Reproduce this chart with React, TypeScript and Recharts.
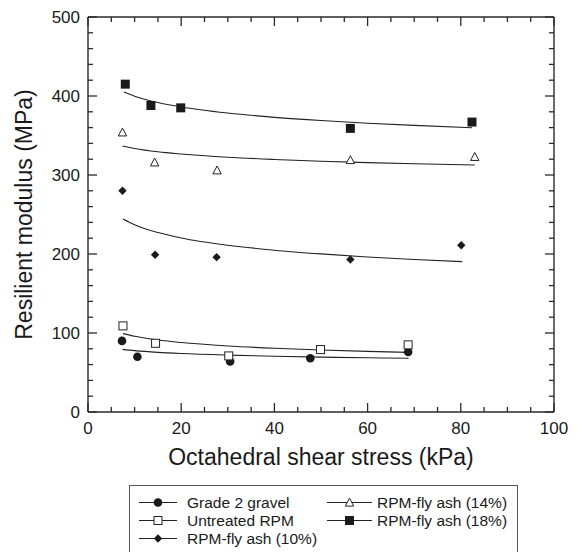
import React from 'react';
import { ComposedChart, Line, Scatter, XAxis, YAxis } from 'recharts';

// Measured points: octahedral shear stress (kPa) vs resilient modulus (MPa)
const gravelStress = [7.3, 10.6, 30.5, 47.7, 68.7];
const gravelModulus = [90, 70, 64, 68, 76];
const untreatedStress = [7.5, 14.5, 30.2, 49.9, 68.7];
const untreatedModulus = [109, 87, 71, 79, 85];
const ash10Stress = [7.4, 14.4, 27.6, 56.3, 80.1];
const ash10Modulus = [280, 199, 196, 193, 211];
const ash14Stress = [7.4, 14.3, 27.7, 56.3, 83.0];
const ash14Modulus = [354, 316, 306, 319, 323];
const ash18Stress = [8.0, 13.5, 19.9, 56.3, 82.4];
const ash18Modulus = [415, 388, 385, 359, 367];

// Trend curves
const gravelTrendStress = [7.4, 10, 15, 20, 30, 40, 50, 60, 68.8];
const gravelTrendModulus = [79.3, 77.7, 75.5, 74.0, 72.0, 70.6, 69.5, 68.6, 68.0];
const untreatedTrendStress = [7.5, 10, 15, 20, 30, 40, 50, 60, 68.7];
const untreatedTrendModulus = [99.2, 95.8, 91.1, 87.9, 83.6, 80.7, 78.5, 76.8, 75.5];
const ash10TrendStress = [7.5, 10, 15, 20, 30, 40, 50, 60, 70, 80.3];
const ash10TrendModulus = [244.3, 237.0, 227.1, 220.3, 211.1, 204.8, 200.1, 196.2, 193.1, 190.3];
const ash14TrendStress = [7.4, 10, 15, 20, 30, 40, 50, 60, 70, 83];
const ash14TrendModulus = [336.7, 333.6, 329.4, 326.6, 322.5, 319.7, 317.5, 315.7, 314.3, 312.7];
const ash18TrendStress = [7.7, 10, 15, 20, 30, 40, 50, 60, 70, 82.4];
const ash18TrendModulus = [405, 399.8, 391.7, 386.1, 378.4, 373, 368.9, 365.6, 362.8, 359.9];

// Axis ticks (majors every 20 kPa / 100 MPa carry labels)
const stressTicks = [0, 5, 10, 15, 20, 25, 30, 35, 40, 45, 50, 55, 60, 65, 70, 75, 80, 85, 90, 95, 100];
const modulusTicks = [0, 20, 40, 60, 80, 100, 120, 140, 160, 180, 200, 220, 240, 260, 280, 300, 320, 340, 360, 380, 400, 420, 440, 460, 480, 500];

const seriesNames = ['Grade 2 gravel', 'Untreated RPM', 'RPM-fly ash (10%)', 'RPM-fly ash (14%)', 'RPM-fly ash (18%)'];

const FONT = '"Liberation Sans", Arial, Helvetica, sans-serif';
const AXIS = '#2a2a2a';
const INK = '#1a1a1a';
const MINOR = 5; // inward length of every tick
const EXTRA = 4; // additional length of major ticks

const zip = (xs: number[], ys: number[]) => xs.map((x, i) => ({ x, y: ys[i] }));

type MarkerKind = 'circle' | 'openSquare' | 'diamond' | 'openTriangle' | 'square';

const Marker = ({ kind, cx, cy }: { kind: MarkerKind; cx: number; cy: number }) => {
  switch (kind) {
    case 'circle':
      return <circle cx={cx} cy={cy} r={4.3} fill={INK} />;
    case 'openSquare':
      return <rect x={cx - 4} y={cy - 4} width={8} height={8} fill="#fff" stroke="#222" strokeWidth={1} />;
    case 'diamond':
      return <polygon points={`${cx},${cy - 4.2} ${cx + 4.2},${cy} ${cx},${cy + 4.2} ${cx - 4.2},${cy}`} fill={INK} />;
    case 'openTriangle':
      return <polygon points={`${cx},${cy - 4.3} ${cx + 4.2},${cy + 3.6} ${cx - 4.2},${cy + 3.6}`} fill="#fff" stroke="#222" strokeWidth={1} />;
    case 'square':
      return <rect x={cx - 4.5} y={cy - 4.5} width={9} height={9} fill={INK} />;
  }
  return null;
};

const shapeOf = (kind: MarkerKind) => (p: any) => <Marker kind={kind} cx={p.cx} cy={p.cy} />;
const noShape = () => <g />;

const tickLineStyle = { stroke: AXIS, strokeWidth: 1.3 };
const axisLineStyle = { stroke: AXIS, strokeWidth: 1.4 };

// Native tick lines point inward (negative tickSize); the tick renderer
// lengthens majors and writes their labels.
const BottomTick = (p: any) => {
  const v = p.payload.value;
  const major = v % 20 === 0;
  return (
    <g>
      {major ? <path d={`M${p.x},${p.y}L${p.x},${p.y - EXTRA}`} stroke={AXIS} strokeWidth={1.3} fill="none" /> : null}
      {major ? (
        <text x={p.x} y={p.y + MINOR + 21.5} textAnchor="middle" fontSize={17} fontFamily={FONT} fill={INK}>
          {v}
        </text>
      ) : null}
    </g>
  );
};

const TopTick = (p: any) => {
  const major = p.payload.value % 20 === 0;
  return <g>{major ? <path d={`M${p.x},${p.y}L${p.x},${p.y + EXTRA}`} stroke={AXIS} strokeWidth={1.3} fill="none" /> : null}</g>;
};

const LeftTick = (p: any) => {
  const v = p.payload.value;
  const major = v % 100 === 0;
  return (
    <g>
      {major ? <path d={`M${p.x},${p.y}L${p.x + EXTRA},${p.y}`} stroke={AXIS} strokeWidth={1.3} fill="none" /> : null}
      {major ? (
        <text x={p.x - MINOR - 8} y={p.y + 6} textAnchor="end" fontSize={17} fontFamily={FONT} fill={INK}>
          {v}
        </text>
      ) : null}
    </g>
  );
};

const RightTick = (p: any) => {
  const major = p.payload.value % 100 === 0;
  return <g>{major ? <path d={`M${p.x},${p.y}L${p.x - EXTRA},${p.y}`} stroke={AXIS} strokeWidth={1.3} fill="none" /> : null}</g>;
};

const XTitle = (p: any) => {
  const vb = p.viewBox;
  return (
    <text x={vb.x + vb.width / 2} y={vb.y + 53} textAnchor="middle" fontSize={23} fontFamily={FONT} fill={INK}>
      Octahedral shear stress (kPa)
    </text>
  );
};

const YTitle = (p: any) => {
  const vb = p.viewBox;
  const cx = 31.5;
  const cy = vb.y + vb.height / 2;
  return (
    <text x={cx} y={cy} transform={`rotate(-90, ${cx}, ${cy})`} textAnchor="middle" fontSize={23} fontFamily={FONT} fill={INK}>
      Resilient modulus (MPa)
    </text>
  );
};

const legendItems: { name: string; kind: MarkerKind; col: number; row: number }[] = [
  { name: seriesNames[0], kind: 'circle', col: 0, row: 0 },
  { name: seriesNames[1], kind: 'openSquare', col: 0, row: 1 },
  { name: seriesNames[2], kind: 'diamond', col: 0, row: 2 },
  { name: seriesNames[3], kind: 'openTriangle', col: 1, row: 0 },
  { name: seriesNames[4], kind: 'square', col: 1, row: 1 },
];

const LegendBox = () => {
  const cols = [
    { x1: 10, x2: 48, text: 58 },
    { x1: 198, x2: 243, text: 248 },
  ];
  return (
    <svg width={389} height={90} style={{ position: 'absolute', left: 129, top: 485 }}>
      <rect x={0.5} y={0.5} width={388} height={100} fill="#fff" stroke="#555" strokeWidth={1} />
      {legendItems.map((it) => {
        const c = cols[it.col];
        const y = 17.5 + it.row * 18;
        const mid = (c.x1 + c.x2) / 2;
        return (
          <g key={it.name}>
            <path d={`M${c.x1},${y}L${c.x2},${y}`} stroke="#222" strokeWidth={1} />
            <Marker kind={it.kind} cx={mid} cy={y} />
            <text x={c.text} y={y + 5.5} fontSize={15.5} fontFamily={FONT} fill={INK}>
              {it.name}
            </text>
          </g>
        );
      })}
    </svg>
  );
};

const trends = [
  zip(gravelTrendStress, gravelTrendModulus),
  zip(untreatedTrendStress, untreatedTrendModulus),
  zip(ash10TrendStress, ash10TrendModulus),
  zip(ash14TrendStress, ash14TrendModulus),
  zip(ash18TrendStress, ash18TrendModulus),
];

const points: { data: { x: number; y: number }[]; kind: MarkerKind }[] = [
  { data: zip(gravelStress, gravelModulus), kind: 'circle' },
  { data: zip(untreatedStress, untreatedModulus), kind: 'openSquare' },
  { data: zip(ash10Stress, ash10Modulus), kind: 'diamond' },
  { data: zip(ash14Stress, ash14Modulus), kind: 'openTriangle' },
  { data: zip(ash18Stress, ash18Modulus), kind: 'square' },
];

export default function App() {
  return (
    <div style={{ position: 'absolute', left: 0, top: 0, width: 582, height: 552, overflow: 'hidden', background: '#fff' }}>
      <ComposedChart width={582} height={552} margin={{ top: 16, right: 27, bottom: 0, left: 0 }}>
        <XAxis
          xAxisId="b"
          type="number"
          dataKey="x"
          domain={[0, 100]}
          ticks={stressTicks}
          interval={0}
          height={140}
          tickSize={-MINOR}
          tickMargin={0}
          tickLine={tickLineStyle}
          tick={BottomTick}
          axisLine={axisLineStyle}
          label={{ content: XTitle }}
        />
        <XAxis
          xAxisId="t"
          orientation="top"
          type="number"
          dataKey="x"
          domain={[0, 100]}
          ticks={stressTicks}
          interval={0}
          height={1}
          tickSize={-MINOR}
          tickMargin={0}
          tickLine={tickLineStyle}
          tick={TopTick}
          axisLine={axisLineStyle}
        />
        <YAxis
          yAxisId="l"
          type="number"
          dataKey="y"
          domain={[0, 500]}
          ticks={modulusTicks}
          interval={0}
          width={88}
          tickSize={-MINOR}
          tickMargin={0}
          tickLine={tickLineStyle}
          tick={LeftTick}
          axisLine={axisLineStyle}
          label={{ content: YTitle }}
        />
        <YAxis
          yAxisId="r"
          orientation="right"
          type="number"
          dataKey="y"
          domain={[0, 500]}
          ticks={modulusTicks}
          interval={0}
          width={1}
          tickSize={-MINOR}
          tickMargin={0}
          tickLine={tickLineStyle}
          tick={RightTick}
          axisLine={axisLineStyle}
        />
        {/* mirror axes frame the plot; an invisible series keeps them attached */}
        <Scatter
          xAxisId="t"
          yAxisId="r"
          data={points[0].data}
          dataKey="y"
          shape={noShape}
          legendType="none"
          isAnimationActive={false}
        />
        {trends.map((d, i) => (
          <Line
            key={`trend-${i}`}
            xAxisId="b"
            yAxisId="l"
            data={d}
            dataKey="y"
            type="monotone"
            stroke="#222"
            strokeWidth={1.1}
            dot={false}
            activeDot={false}
            legendType="none"
            isAnimationActive={false}
          />
        ))}
        {points.map((s, i) => (
          <Scatter
            key={`pts-${i}`}
            name={seriesNames[i]}
            xAxisId="b"
            yAxisId="l"
            data={s.data}
            dataKey="y"
            shape={shapeOf(s.kind)}
            isAnimationActive={false}
          />
        ))}
      </ComposedChart>
      <LegendBox />
    </div>
  );
}
